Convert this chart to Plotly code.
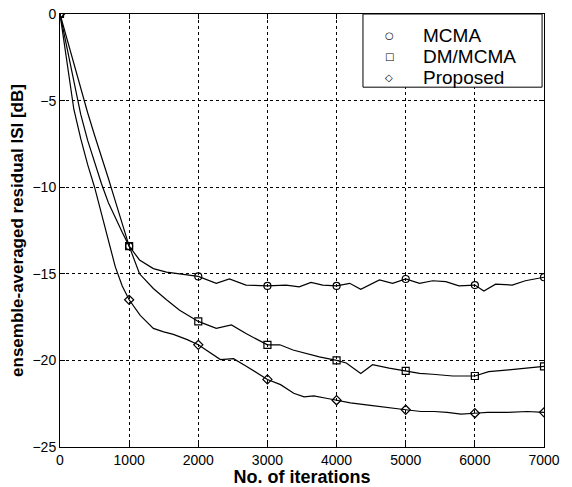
import plotly.graph_objects as go

# ---- data ----
mcma_x = [0, 100, 200, 300, 400, 500, 600, 700, 800, 900, 1000, 1150, 1350, 1540, 1730,
          2000, 2260, 2450, 2690, 3000, 3270, 3460, 3630, 3800, 4000, 4190, 4350, 4620,
          4810, 5000, 5200, 5390, 5580, 5770, 6000, 6130, 6300, 6540, 6730, 7000]
mcma_y = [0, -2.0, -4.0, -5.8, -7.3, -8.6, -9.8, -10.9, -11.8, -12.6, -13.4, -14.2, -14.7,
          -14.9, -15.0, -15.15, -15.55, -15.3, -15.65, -15.7, -15.65, -15.75, -15.5, -15.65,
          -15.7, -15.55, -15.9, -15.35, -15.55, -15.3, -15.55, -15.4, -15.45, -15.7, -15.65,
          -16.0, -15.6, -15.65, -15.4, -15.2]

dm_x = [0, 100, 200, 300, 400, 500, 600, 700, 800, 900, 1000, 1150, 1350, 1540, 1730,
        2000, 2260, 2480, 2690, 3000, 3180, 3370, 3560, 3750, 4000, 4140, 4350, 4520,
        4760, 5000, 5200, 5390, 5680, 6000, 6200, 6490, 6730, 7000]
dm_y = [0, -1.45, -2.9, -4.3, -5.7, -7.0, -8.2, -9.5, -10.8, -12.1, -13.4, -15.0, -15.85,
        -16.5, -17.1, -17.75, -18.15, -17.95, -18.45, -19.1, -19.1, -19.4, -19.6, -19.8,
        -20.0, -20.15, -20.75, -20.25, -20.45, -20.6, -20.75, -20.8, -20.9, -20.9, -20.65,
        -20.55, -20.45, -20.35]

prop_x = [0, 100, 200, 300, 400, 500, 600, 700, 800, 900, 1000, 1160, 1350, 1500, 1640,
          1840, 2000, 2320, 2510, 2700, 3000, 3190, 3380, 3530, 3670, 3870, 4000, 4200,
          4490, 4730, 5000, 5220, 5410, 5600, 5800, 6000, 6180, 6470, 6760, 7000]
prop_y = [0, -2.8, -5.5, -7.2, -8.7, -10.0, -11.5, -13.0, -14.6, -15.7, -16.5, -17.4,
          -18.15, -18.35, -18.5, -18.8, -19.1, -19.95, -19.9, -20.35, -21.1, -21.4, -21.9,
          -22.1, -22.05, -22.2, -22.3, -22.45, -22.6, -22.7, -22.85, -22.95, -22.95, -23.0,
          -23.1, -23.05, -23.0, -23.0, -22.95, -23.0]

series_names = ["MCMA", "DM/MCMA", "Proposed"]
symbols = ["circle-open", "square-open", "diamond-open"]
legend_glyphs = ["\u25cb", "\u25a1", "\u25c7"]
x_ticks = [0, 1000, 2000, 3000, 4000, 5000, 6000, 7000]
y_ticks = [-25, -20, -15, -10, -5, 0]

FONT = "Arial, Liberation Sans, Helvetica, sans-serif"

fig = go.Figure()
for name, sym, xs, ys in zip(series_names, symbols,
                             [mcma_x, dm_x, prop_x], [mcma_y, dm_y, prop_y]):
    fig.add_trace(go.Scatter(x=xs, y=ys, mode="lines", showlegend=False,
                             line=dict(color="black", width=1.2)))
    mx = [x for x in xs if x % 1000 == 0]
    my = [y for x, y in zip(xs, ys) if x % 1000 == 0]
    fig.add_trace(go.Scatter(x=mx, y=my, mode="markers", name=name, showlegend=False,
                             marker=dict(symbol=sym, size=7, color="black",
                                         line=dict(width=1.2, color="black"))))

axis_common = dict(showline=True, linecolor="black", linewidth=1, mirror="allticks",
                   ticks="inside", ticklen=5, tickcolor="black",
                   showgrid=True, gridcolor="black", gridwidth=1, griddash="dot",
                   zeroline=False, automargin=False,
                   tickfont=dict(family=FONT, size=14, color="black"))

fig.update_xaxes(range=[0, 7000], tickvals=x_ticks, **axis_common,
                 title=dict(text="<b>No. of iterations</b>", standoff=0,
                            font=dict(family=FONT, size=18, color="black")))
fig.update_yaxes(range=[-25, 0], tickvals=y_ticks, **axis_common,
                 title=dict(text="<b>ensemble-averaged residual ISI [dB]</b>", standoff=4,
                            font=dict(family=FONT, size=17, color="black")))

# ---- legend box (drawn as layout shape + annotations) ----
fig.add_shape(type="rect", xref="paper", yref="paper",
              x0=0.626, x1=0.996, y0=0.831, y1=1.0,
              line=dict(color="black", width=1), fillcolor="white", layer="above")
row_y = [0.9515, 0.903, 0.8545]
for glyph, name, ry in zip(legend_glyphs, series_names, row_y):
    fig.add_annotation(xref="paper", yref="paper", x=0.680, y=ry, text=glyph,
                       showarrow=False, xanchor="center", yanchor="middle",
                       font=dict(family="DejaVu Sans", size=10, color="black"))
    fig.add_annotation(xref="paper", yref="paper", x=0.745, y=ry, text=name,
                       showarrow=False, xanchor="left", yanchor="middle",
                       font=dict(family=FONT, size=19, color="black"))

fig.update_layout(
    width=572, height=487,
    margin=dict(l=60, r=28, t=14, b=40),
    paper_bgcolor="white", plot_bgcolor="white",
    font=dict(family=FONT, color="black"),
    showlegend=False,
)

fig.write_html("out.html", config={"displayModeBar": False},
               post_script="document.body.style.margin='0';document.body.style.padding='0';")
